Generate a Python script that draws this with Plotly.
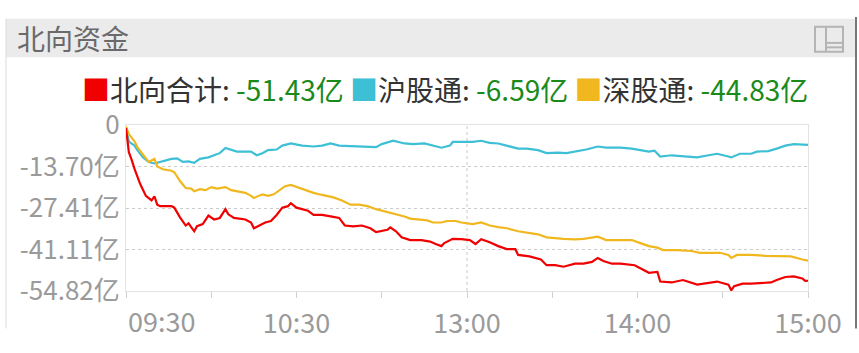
import plotly.graph_objects as go

# ---- data ----
tick_minutes = [0, 30, 60, 90, 120, 150, 180, 210, 240]
tick_labels = ["09:30", "", "10:30", "", "13:00", "", "14:00", "", "15:00"]
y_ticks = [0, -13.705, -27.41, -41.115, -54.82]
y_labels = ["0", "-13.70亿", "-27.41亿", "-41.11亿", "-54.82亿"]

series_names = ["北向合计", "沪股通", "深股通"]
series_colors = ["#f00000", "#3dbfd6", "#f0b81e"]

red_min = [0, 1, 2, 3, 5, 7, 9, 10, 11, 12, 16, 17, 19, 21, 22, 24, 25, 27, 29, 31, 33, 35, 36, 38,
           42, 44, 45, 47, 49, 51, 53, 55, 57, 58, 60, 62, 64, 66, 69, 72, 75, 77, 80, 83, 86, 88,
           92, 93, 95, 97, 100, 104, 107, 109, 111, 112, 115, 118, 121, 123, 125, 128, 131, 134,
           137, 138, 142, 146, 148, 151, 154, 158, 161, 164, 166, 168, 171, 174, 179, 182, 184,
           187, 188, 192, 196, 201, 205, 208, 212, 213, 214, 217, 220, 224, 227, 229, 232, 235,
           238, 239, 240]
red_val = [-1.0, -9.0, -11.5, -14.5, -19.5, -23.4, -24.9, -23.6, -26.3, -26.8, -26.8, -27.3, -30.5,
           -33.2, -32.5, -35.1, -33.4, -32.7, -29.9, -31.2, -30.7, -27.8, -29.5, -30.7, -31.2, -32.2,
           -34.1, -33.2, -32.2, -31.7, -29.7, -27.3, -26.8, -25.8, -27.3, -27.8, -28.3, -29.7, -29.7,
           -30.2, -30.7, -33.2, -33.5, -33.2, -34.1, -35.4, -34.6, -33.8, -35.1, -37.1, -38.0, -38.0,
           -38.5, -39.3, -40.0, -39.0, -37.6, -37.7, -38.0, -39.3, -37.7, -38.7, -40.0, -41.0, -41.0,
           -42.9, -43.4, -44.4, -46.3, -46.3, -46.8, -45.8, -45.8, -45.2, -43.9, -44.9, -45.8, -45.8,
           -46.3, -47.8, -48.8, -48.5, -51.7, -52.0, -51.2, -52.7, -52.0, -51.7, -52.7, -54.6, -53.2,
           -52.4, -52.4, -52.2, -52.0, -51.2, -50.2, -50.0, -50.7, -51.5, -51.43]

cyan_min = [0, 1, 3, 4, 6, 8, 10, 12, 13, 16, 18, 20, 22, 24, 26, 29, 31, 33, 35, 37, 39, 44, 46, 48,
            50, 53, 55, 58, 62, 66, 69, 72, 75, 79, 82, 86, 88, 90, 94, 98, 101, 105, 108, 111, 114,
            115, 118, 122, 125, 128, 131, 134, 138, 141, 145, 148, 152, 155, 159, 162, 166, 169, 174,
            178, 181, 184, 186, 188, 192, 196, 201, 205, 208, 212, 213, 216, 220, 222, 226, 229, 232,
            235, 239, 240]
cyan_val = [-0.8, -5.5, -6.8, -8.3, -10.7, -12.2, -12.7, -12.2, -11.7, -11.2, -11.0, -12.2, -12.0,
            -12.5, -11.2, -10.7, -10.0, -9.3, -7.6, -8.3, -8.8, -8.8, -10.0, -9.3, -8.3, -8.1, -6.8,
            -6.1, -6.8, -7.1, -6.8, -6.1, -6.8, -7.0, -7.1, -7.1, -7.3, -6.3, -5.2, -6.1, -6.3, -6.1,
            -6.8, -7.5, -6.8, -5.6, -5.6, -5.6, -5.2, -5.9, -6.1, -6.8, -7.8, -7.8, -8.3, -9.3, -9.1,
            -9.3, -8.6, -8.1, -7.1, -7.5, -7.5, -7.8, -8.3, -8.8, -8.5, -10.4, -10.0, -10.2, -10.7,
            -10.0, -9.5, -10.4, -10.7, -9.5, -9.5, -8.8, -8.6, -7.8, -6.8, -6.3, -6.5, -6.59]

gold_min = [0, 1, 3, 4, 6, 8, 10, 11, 13, 16, 17, 19, 21, 23, 24, 26, 28, 30, 32, 35, 37, 39, 42, 44,
            45, 48, 50, 52, 54, 56, 58, 60, 63, 66, 69, 73, 76, 79, 82, 85, 88, 92, 95, 98, 100, 104,
            106, 108, 111, 113, 116, 118, 120, 122, 125, 128, 131, 134, 138, 141, 145, 148, 151, 154,
            158, 161, 166, 169, 174, 178, 181, 184, 187, 189, 194, 199, 202, 206, 209, 212, 213, 215,
            220, 225, 229, 234, 238, 240]
gold_val = [-0.5, -3.0, -5.4, -7.3, -9.8, -12.2, -11.2, -13.7, -14.6, -15.1, -15.6, -18.5, -20.8,
            -21.0, -21.9, -21.2, -21.5, -20.5, -21.0, -20.5, -21.5, -21.9, -22.4, -23.4, -24.1, -22.9,
            -23.4, -22.9, -21.5, -20.2, -19.8, -20.5, -21.5, -22.4, -23.1, -23.9, -24.9, -26.3, -26.3,
            -26.8, -27.8, -28.8, -29.3, -30.2, -30.9, -31.2, -31.5, -32.2, -32.2, -31.7, -31.7, -32.2,
            -32.5, -32.7, -32.2, -33.2, -33.7, -34.1, -35.1, -35.6, -36.1, -37.1, -37.4, -37.6, -37.8,
            -37.6, -36.9, -38.0, -38.0, -38.0, -39.0, -40.0, -40.5, -41.3, -41.3, -41.6, -42.2, -42.2,
            -42.2, -42.9, -43.9, -42.9, -42.9, -43.2, -43.2, -43.4, -44.4, -44.83]

title_text = "北向资金"
value_color = "#1a8a1a"

# ---- layout geometry (pixels of the 859x353 page) ----
W, H = 859, 353
L, R, T, B = 126, 51, 125, 42
PW, PH = W - L - R, H - T - B


def px(x):
    return (x - L) / PW


def py(y):
    return (H - B - y) / PH


FONT = "Noto Sans CJK SC"

fig = go.Figure()
all_series = [(cyan_min, cyan_val, 1), (gold_min, gold_val, 2), (red_min, red_val, 0)]
for xs, ys, idx in all_series:
    fig.add_trace(go.Scatter(x=xs, y=ys, mode="lines", name=series_names[idx],
                             line=dict(color=series_colors[idx], width=2.2),
                             showlegend=False, hoverinfo="skip"))

# legend text built from series and their last values
last_vals = [red_val[-1], cyan_val[-1], gold_val[-1]]
parts = []
for n, c, v in zip(series_names, series_colors, last_vals):
    parts.append(f"<span style='color:{c}'>■</span><span style='color:#333333'>{n}:</span>"
                 f"<span style='color:{value_color}'> {v:.2f}亿</span>")
legend_text = " ".join(parts)

shapes = [
    # header bar
    dict(type="rect", xref="paper", yref="paper", x0=px(6), x1=px(855), y0=py(49), y1=py(6),
         fillcolor="#ebebeb", line=dict(width=0), layer="below"),
    # panel borders
    dict(type="line", xref="paper", yref="paper", x0=px(6), x1=px(6), y0=py(353), y1=py(6),
         line=dict(color="#dcdcdc", width=1)),
    dict(type="line", xref="paper", yref="paper", x0=px(856), x1=px(856), y0=py(353), y1=py(4),
         line=dict(color="#777777", width=2)),
    # icon
    dict(type="rect", xref="paper", yref="paper", x0=px(815), x1=px(843), y0=py(43), y1=py(15),
         line=dict(color="#b4b4b4", width=2), fillcolor="rgba(0,0,0,0)"),
    dict(type="line", xref="paper", yref="paper", x0=px(826), x1=px(826), y0=py(43), y1=py(15),
         line=dict(color="#b4b4b4", width=2)),
    dict(type="line", xref="paper", yref="paper", x0=px(826), x1=px(843), y0=py(33), y1=py(33),
         line=dict(color="#b4b4b4", width=2)),
    dict(type="line", xref="paper", yref="paper", x0=px(826), x1=px(843), y0=py(38), y1=py(38),
         line=dict(color="#b4b4b4", width=2)),
    # vertical dotted gridline at 13:00
    dict(type="line", xref="x", yref="paper", x0=tick_minutes[4], x1=tick_minutes[4], y0=0, y1=1,
         line=dict(color="#c8c8c8", width=1, dash="dot"), layer="below"),
]

annotations = [
    dict(text=title_text, xref="paper", yref="paper", x=px(15), y=py(28), xanchor="left",
         yanchor="middle", showarrow=False, font=dict(family=FONT, size=28, color="#6a6a6a")),
    dict(text=legend_text, xref="paper", yref="paper", x=px(809), y=py(85), xanchor="right",
         yanchor="middle", showarrow=False, borderpad=0,
         font=dict(family=FONT, size=28, color="#333333")),
    dict(text=tick_labels[0], xref="x", yref="paper", x=tick_minutes[0], y=0, xanchor="left",
         yanchor="top", yshift=-8, showarrow=False, font=dict(family=FONT, size=27, color="#9a9a9a")),
]

fig.update_layout(
    width=W, height=H, autosize=False,
    margin=dict(l=L, r=R, t=T, b=B, pad=0),
    paper_bgcolor="white", plot_bgcolor="white",
    shapes=shapes, annotations=annotations,
    font=dict(family=FONT),
    xaxis=dict(range=[0, 240], tickvals=tick_minutes, ticktext=[""] + tick_labels[1:],
               showgrid=False, zeroline=False, ticks="outside", ticklen=6, tickcolor="#d0d0d0",
               showline=True, linecolor="#e3e3e3", mirror=True, ticklabelstandoff=3,
               tickfont=dict(family=FONT, size=27, color="#9a9a9a"), fixedrange=True),
    yaxis=dict(range=[-54.82, 0], tickvals=y_ticks, ticktext=y_labels,
               showgrid=True, gridcolor="#cccccc", griddash="dot", zeroline=False,
               showline=True, linecolor="#e3e3e3", mirror=True, ticks="",
               tickfont=dict(family=FONT, size=26, color="#9a9a9a"), fixedrange=True),
)

fig.write_html("out.html")
